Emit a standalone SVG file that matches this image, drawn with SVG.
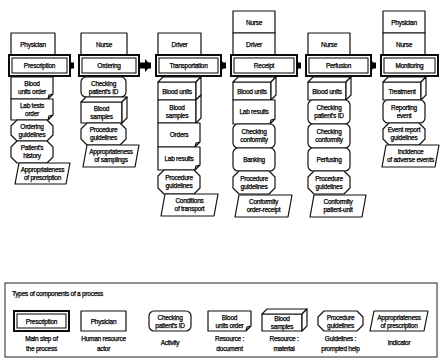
<svg xmlns="http://www.w3.org/2000/svg" width="442" height="364" viewBox="0 0 442 364">
<style>
.s{fill:#fff;stroke:#111;stroke-width:1.2;stroke-linejoin:round}
.m{fill:#fff;stroke:#000;stroke-width:1.9}
.mi{fill:none;stroke:#000;stroke-width:1}
.lg{fill:none;stroke:#222;stroke-width:1}
.c{stroke:#000;stroke-width:6;fill:none}
text{font-family:"Liberation Sans",Arial,sans-serif;font-size:6.5px;fill:#000;stroke:#000;stroke-width:0.25;text-anchor:middle;letter-spacing:-0.25px}
.l{text-anchor:start}
</style>
<defs>
<marker id="ah" markerUnits="userSpaceOnUse" markerWidth="7" markerHeight="13" refX="6" refY="6.5" orient="auto"><path d="M0 0L6 6.5L0 13Z" fill="#000"/></marker>
</defs>
<rect width="442" height="364" fill="#fff"/>

<g id="connectors">
<line class="c" x1="70" y1="65.5" x2="74" y2="65.5" marker-end="url(#ah)"/>
<line class="c" x1="139" y1="65.5" x2="151" y2="65.5" marker-end="url(#ah)"/>
<line class="c" x1="221" y1="65.5" x2="226" y2="65.5" marker-end="url(#ah)"/>
<line class="c" x1="297" y1="65.5" x2="301" y2="65.5" marker-end="url(#ah)"/>
<line class="c" x1="371" y1="65.5" x2="376" y2="65.5" marker-end="url(#ah)"/>
</g>

<!-- Column 1 -->
<g id="physician1"><rect class="s" x="11" y="33" width="44" height="22"/><text x="33" y="46.5">Physician</text></g>
<g id="prescription"><rect class="m" x="9" y="55" width="61" height="21"/><rect class="mi" x="12" y="58" width="55" height="15"/><text x="39.5" y="68">Prescription</text></g>
<g id="blood-units-order"><path class="s" d="M11 77H53V94L48 99H11Z M48 99L49 95L53 94"/><text x="32" y="86">Blood</text><text x="32" y="94">units order</text></g>
<g id="lab-tests-order"><path class="s" d="M11 99H53V115L48 120H11Z M48 120L49 116L53 115"/><text x="32" y="107.5">Lab tests</text><text x="32" y="115.5">order</text></g>
<g id="ordering-guidelines"><path class="s" d="M17 120H47L53 126V135L47 141H17L11 135V126Z"/><text x="32" y="128.5">Ordering</text><text x="32" y="136.5">guidelines</text></g>
<g id="patients-history"><path class="s" d="M17 141H47L53 147V157L47 163H17L11 157V147Z"/><text x="32" y="150">Patient's</text><text x="32" y="158">history</text></g>
<g id="appropriateness-prescription"><path class="s" d="M19 163H70L66 184H15Z"/><text x="42.5" y="171.5">Appropriateness</text><text x="42.5" y="179.5">of prescription</text></g>

<!-- Column 2 -->
<g id="nurse2"><rect class="s" x="81" y="33" width="46" height="22"/><text x="104" y="46.5">Nurse</text></g>
<g id="ordering"><rect class="m" x="79" y="55" width="60" height="21"/><rect class="mi" x="82" y="58" width="54" height="15"/><text x="109" y="68">Ordering</text></g>
<g id="checking-id2"><rect class="s" x="81" y="77" width="45" height="20" rx="5"/><text x="103.5" y="85.5">Checking</text><text x="103.5" y="93.5">patient's ID</text></g>
<g id="blood-samples2"><rect class="s" x="81" y="102" width="41" height="21"/><path class="s" d="M81 102L86 97H127L122 102Z"/><path class="s" d="M122 102L127 97V118L122 123Z"/><text x="101.5" y="110.5">Blood</text><text x="101.5" y="118.5">samples</text></g>
<g id="procedure2"><path class="s" d="M87 123H120L126 129V139L120 145H87L81 139V129Z"/><text x="103.5" y="132">Procedure</text><text x="103.5" y="140">guidelines</text></g>
<g id="appropriateness-samplings"><path class="s" d="M87 145H139L135 167H83Z"/><text x="111" y="154">Appropriateness</text><text x="111" y="162">of samplings</text></g>

<!-- Column 3 -->
<g id="driver3"><rect class="s" x="158" y="33" width="43" height="22"/><text x="179.5" y="46.5">Driver</text></g>
<g id="transportation"><rect class="m" x="156" y="55" width="65" height="21"/><rect class="mi" x="159" y="58" width="59" height="15"/><text x="188.5" y="68">Transportation</text></g>
<g id="blood-units3"><rect class="s" x="158" y="82" width="38" height="18"/><path class="s" d="M158 82L163 77H201L196 82Z"/><path class="s" d="M196 82L201 77V95L196 100Z"/><text x="177" y="93.5">Blood units</text></g>
<g id="blood-samples3"><rect class="s" x="158" y="100" width="38" height="23"/><path class="s" d="M196 100L201 95V118L196 123Z"/><text x="177" y="110">Blood</text><text x="177" y="118">samples</text></g>
<g id="orders"><path class="s" d="M158 123H200V142L195 147H158Z M195 147L196 143L200 142"/><text x="179" y="137">Orders</text></g>
<g id="lab-results3"><path class="s" d="M158 147H200V165L195 170H158Z M195 170L196 166L200 165"/><text x="179" y="160.5">Lab results</text></g>
<g id="procedure3"><path class="s" d="M164 170H194L200 176V188L194 194H164L158 188V176Z"/><text x="179" y="180">Procedure</text><text x="179" y="188">guidelines</text></g>
<g id="conditions-transport"><path class="s" d="M165 194H218L214 216H161Z"/><text x="189.5" y="203">Conditions</text><text x="189.5" y="211">of transport</text></g>

<!-- Column 4 -->
<g id="nurse4"><rect class="s" x="233" y="11" width="42" height="22"/><text x="254" y="24.5">Nurse</text></g>
<g id="driver4"><rect class="s" x="233" y="33" width="42" height="22"/><text x="254" y="46.5">Driver</text></g>
<g id="receipt"><rect class="m" x="231" y="55" width="66" height="21"/><rect class="mi" x="234" y="58" width="60" height="15"/><text x="264" y="68">Receipt</text></g>
<g id="blood-units4"><rect class="s" x="233" y="82" width="38" height="18"/><path class="s" d="M233 82L238 77H276L271 82Z"/><path class="s" d="M271 82L276 77V95L271 100Z"/><text x="252" y="93.5">Blood units</text></g>
<g id="lab-results4"><path class="s" d="M233 100H275V119L270 124H233Z M270 124L271 120L275 119"/><text x="254" y="114">Lab results</text></g>
<g id="checking-conformity4"><rect class="s" x="233" y="124" width="42" height="24" rx="5"/><text x="254" y="134">Checking</text><text x="254" y="142">conformity</text></g>
<g id="banking"><rect class="s" x="233" y="148" width="42" height="23" rx="5"/><text x="254" y="161.5">Banking</text></g>
<g id="procedure4"><path class="s" d="M239 171H269L275 177V188L269 194H239L233 188V177Z"/><text x="254" y="180.5">Procedure</text><text x="254" y="188.5">guidelines</text></g>
<g id="conformity-order-receipt"><path class="s" d="M239 195H292L288 217H235Z"/><text x="263.5" y="204">Conformity</text><text x="263.5" y="212">order-receipt</text></g>

<!-- Column 5 -->
<g id="nurse5"><rect class="s" x="308" y="33" width="42" height="22"/><text x="329" y="46.5">Nurse</text></g>
<g id="perfusion"><rect class="m" x="306" y="55" width="65" height="21"/><rect class="mi" x="309" y="58" width="59" height="15"/><text x="338.5" y="68">Perfusion</text></g>
<g id="blood-units5"><rect class="s" x="308" y="82" width="38" height="18"/><path class="s" d="M308 82L313 77H351L346 82Z"/><path class="s" d="M346 82L351 77V95L346 100Z"/><text x="327" y="93.5">Blood units</text></g>
<g id="checking-id5"><rect class="s" x="308" y="100" width="42" height="24" rx="5"/><text x="329" y="110">Checking</text><text x="329" y="118">patient's ID</text></g>
<g id="checking-conformity5"><rect class="s" x="308" y="124" width="42" height="24" rx="5"/><text x="329" y="134">Checking</text><text x="329" y="142">conformity</text></g>
<g id="perfusing"><rect class="s" x="308" y="148" width="42" height="23" rx="5"/><text x="329" y="161.5">Perfusing</text></g>
<g id="procedure5"><path class="s" d="M314 171H344L350 177V188L344 194H314L308 188V177Z"/><text x="329" y="180.5">Procedure</text><text x="329" y="188.5">guidelines</text></g>
<g id="conformity-patient-unit"><path class="s" d="M314 195H366L362 217H310Z"/><text x="338" y="204">Conformity</text><text x="338" y="212">patient-unit</text></g>

<!-- Column 6 -->
<g id="physician6"><rect class="s" x="383" y="11" width="42" height="22"/><text x="404" y="24.5">Physician</text></g>
<g id="nurse6"><rect class="s" x="383" y="33" width="42" height="22"/><text x="404" y="46.5">Nurse</text></g>
<g id="monitoring"><rect class="m" x="381" y="55" width="57" height="21"/><rect class="mi" x="384" y="58" width="51" height="15"/><text x="409.5" y="68">Monitoring</text></g>
<g id="treatment"><rect class="s" x="383" y="82" width="38" height="18"/><path class="s" d="M383 82L388 77H426L421 82Z"/><path class="s" d="M421 82L426 77V95L421 100Z"/><text x="402" y="93.5">Treatment</text></g>
<g id="reporting-event"><rect class="s" x="383" y="100" width="42" height="23" rx="5"/><text x="404" y="109.5">Reporting</text><text x="404" y="117.5">event</text></g>
<g id="event-report-guidelines"><path class="s" d="M389 123H419L425 129V139L419 145H389L383 139V129Z"/><text x="404" y="132">Event report</text><text x="404" y="140">guidelines</text></g>
<g id="incidence"><path class="s" d="M386 145H439L435 167H382Z"/><text x="410.5" y="154">Incidence</text><text x="410.5" y="162">of adverse events</text></g>

<!-- Legend -->
<g id="legend">
<rect class="lg" x="5" y="283" width="432" height="74"/>
<text class="l" x="12" y="296">Types of components of a process</text>
<g id="legend-main"><rect class="m" x="14" y="311" width="55" height="20"/><rect class="mi" x="17" y="314" width="49" height="14"/><text x="41.5" y="323.5">Prescription</text><text x="41.5" y="341">Main step of</text><text x="41.5" y="351">the process</text></g>
<g id="legend-actor"><rect class="s" x="81" y="311" width="45" height="20"/><text x="103.5" y="323.5">Physician</text><text x="103.5" y="341">Human resource</text><text x="103.5" y="351">actor</text></g>
<g id="legend-activity"><rect class="s" x="149" y="311" width="42" height="20" rx="5"/><text x="170" y="319.5">Checking</text><text x="170" y="327.5">patient's ID</text><text x="170" y="345">Activity</text></g>
<g id="legend-document"><path class="s" d="M208 311H251V326L246 331H208Z M246 331L247 327L251 326"/><text x="229.5" y="319.5">Blood</text><text x="229.5" y="327.5">units order</text><text x="229.5" y="341">Resource :</text><text x="229.5" y="351">document</text></g>
<g id="legend-material"><rect class="s" x="262" y="314" width="40" height="17"/><path class="s" d="M262 314L267 309H307L302 314Z"/><path class="s" d="M302 314L307 309V326L302 331Z"/><text x="282" y="321">Blood</text><text x="282" y="329">samples</text><text x="284" y="341">Resource :</text><text x="284" y="351">material</text></g>
<g id="legend-guidelines"><path class="s" d="M324 311H357L363 317V325L357 331H324L318 325V317Z"/><text x="340.5" y="319.5">Procedure</text><text x="340.5" y="327.5">guidelines</text><text x="340.5" y="341">Guidelines :</text><text x="340.5" y="351">prompted help</text></g>
<g id="legend-indicator"><path class="s" d="M374 311H428L424 331H370Z"/><text x="399" y="319.5">Appropriateness</text><text x="399" y="327.5">of prescription</text><text x="399" y="345">Indicator</text></g>
</g>
</svg>
